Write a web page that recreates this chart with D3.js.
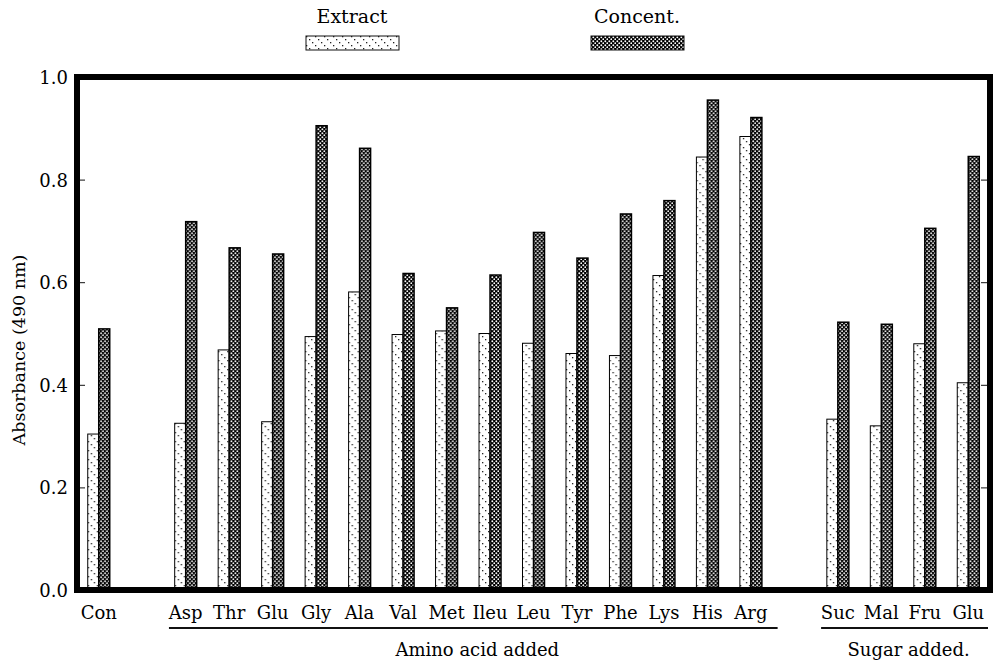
<!DOCTYPE html>
<html>
<head>
<meta charset="utf-8">
<script src="https://cdn.jsdelivr.net/npm/d3@7"></script>
<style>
    body { margin: 0; background: #ffffff; }
    text { font-family: "DejaVu Serif", serif; fill: #000000; }
</style>
</head>
<body>
<div id="chart"></div>
<script>
(function () {
    'use strict';

    // values, one entry per category in order
    var CONTROL = ["Con"];
    var AMINO_ACIDS = ["Asp", "Thr", "Glu", "Gly", "Ala", "Val", "Met", "Ileu", "Leu", "Tyr", "Phe", "Lys", "His", "Arg"];
    var SUGARS = ["Suc", "Mal", "Fru", "Glu"];
    var EXTRACT = [0.304,
        0.325, 0.468, 0.328, 0.494, 0.581, 0.498, 0.505, 0.500, 0.481, 0.461, 0.457, 0.613, 0.844, 0.884,
        0.333, 0.320, 0.480, 0.404];
    var CONCENT = [0.509,
        0.718, 0.667, 0.655, 0.905, 0.861, 0.617, 0.550, 0.614, 0.697, 0.647, 0.733, 0.759, 0.955, 0.921,
        0.522, 0.518, 0.705, 0.845];
    var SERIES = ["Extract", "Concent."];
    var Y_TICKS = [0, 0.2, 0.4, 0.6, 0.8, 1.0];
    var GROUP_TITLES = ["Amino acid added", "Sugar added."];
    var Y_TITLE = "Absorbance (490 nm)";

    var WIDTH = 993;
    var HEIGHT = 661;
    var LEFT = 77, RIGHT = 990, TOP = 77, BOTTOM = 590;

    // slot keys, with an empty slot between the groups
    var ctrlKeys = CONTROL.map(function (d) { return "ctrl:" + d; });
    var aaKeys = AMINO_ACIDS.map(function (d) { return "aa:" + d; });
    var sugarKeys = SUGARS.map(function (d) { return "sugar:" + d; });
    var keys = ctrlKeys.concat(aaKeys, sugarKeys);
    var slots = ctrlKeys.concat(["gap1"], aaKeys, ["gap2"], sugarKeys);

    var rows = keys.map(function (k, i) {
        return {key: k, values: [EXTRACT[i], CONCENT[i]]};
    });

    var x = d3.scaleBand().domain(slots).range([LEFT, RIGHT])
        .paddingInner(0.494).paddingOuter(0.247);
    var xs = d3.scaleBand().domain(SERIES).range([0, x.bandwidth()]);
    var y = d3.scaleLinear().domain([0, 1]).range([BOTTOM, TOP]);

    var svg = d3.select("#chart").append("svg")
        .attr("width", WIDTH)
        .attr("height", HEIGHT);

    addPatterns(svg);
    createBars(svg);
    addAxes(svg);
    addGroupLabels(svg);
    addLegend(svg);

    function addPatterns(svg) {
        var defs = svg.append("defs");

        var dots = defs.append("pattern")
            .attr("id", "pat-extract")
            .attr("patternUnits", "userSpaceOnUse")
            .attr("width", 9).attr("height", 9);
        dots.append("rect").attr("width", 9).attr("height", 9).attr("fill", "#ffffff");
        [0, 3, 6].forEach(function (p) {
            dots.append("rect")
                .attr("x", p).attr("y", p)
                .attr("width", 1.3).attr("height", 1.3)
                .attr("fill", "#222222");
        });

        var check = defs.append("pattern")
            .attr("id", "pat-concent")
            .attr("patternUnits", "userSpaceOnUse")
            .attr("width", 4).attr("height", 4);
        check.append("rect").attr("width", 4).attr("height", 4).attr("fill", "#000000");
        [[0.5, 0.5], [2.5, 2.5]].forEach(function (p) {
            check.append("circle")
                .attr("cx", p[0] + 0.8).attr("cy", p[1] + 0.8)
                .attr("r", 0.95)
                .attr("fill", "#ffffff");
        });
    }

    function createBars(svg) {
        var groups = svg.append("g").selectAll("g")
            .data(rows)
            .enter()
            .append("g")
            .attr("transform", function (d) { return "translate(" + x(d.key) + ",0)"; });

        groups.selectAll("rect")
            .data(function (d) {
                return d.values.map(function (v, i) { return {series: SERIES[i], value: v}; });
            })
            .enter()
            .append("rect")
            .attr("x", function (d) { return xs(d.series); })
            .attr("y", function (d) { return y(d.value); })
            .attr("width", xs.bandwidth())
            .attr("height", function (d) { return y(0) - y(d.value); })
            .attr("fill", function (d) { return d.series === SERIES[0] ? "url(#pat-extract)" : "url(#pat-concent)"; })
            .attr("stroke", "#000000")
            .attr("stroke-width", function (d) { return d.series === SERIES[0] ? 1 : 1.5; });
    }

    function addAxes(svg) {
        var left = svg.append("g")
            .attr("transform", "translate(" + LEFT + ",0)")
            .call(d3.axisLeft(y).tickValues(Y_TICKS).tickSize(-8).tickPadding(9)
                .tickFormat(d3.format(".1f")));
        left.select(".domain").remove();
        left.selectAll("text").style("font-size", "18px").attr("dy", "0.36em");
        left.selectAll("line").attr("stroke", "#111111");

        var right = svg.append("g")
            .attr("transform", "translate(" + RIGHT + ",0)")
            .call(d3.axisRight(y).tickValues(Y_TICKS).tickSize(-9).tickFormat(""));
        right.select(".domain").remove();
        right.selectAll("line").attr("stroke", "#111111");

        // heavy frame round the plot
        svg.append("rect")
            .attr("x", LEFT).attr("y", TOP)
            .attr("width", RIGHT - LEFT).attr("height", BOTTOM - TOP)
            .attr("fill", "none")
            .attr("stroke", "#000000")
            .attr("stroke-width", 6);

        var bottom = svg.append("g")
            .attr("transform", "translate(0," + BOTTOM + ")")
            .call(d3.axisBottom(x).tickValues(keys).tickSize(0).tickPadding(16)
                .tickFormat(function (k) { return k.split(":")[1]; }));
        bottom.select(".domain").remove();
        bottom.selectAll("text").style("font-size", "18px");

        svg.append("text")
            .attr("transform", "translate(25,350) rotate(-90)")
            .attr("text-anchor", "middle")
            .style("font-size", "17.5px")
            .text(Y_TITLE);
    }

    function addGroupLabels(svg) {
        var spans = [
            {keys: aaKeys, title: GROUP_TITLES[0]},
            {keys: sugarKeys, title: GROUP_TITLES[1]}
        ];
        spans.forEach(function (s) {
            var x0 = x(s.keys[0]) - x.step() * x.paddingOuter() + 5;
            var x1 = Math.min(x(s.keys[s.keys.length - 1]) + x.bandwidth() + x.step() * x.paddingOuter() + 5, RIGHT - 2);
            svg.append("line")
                .attr("x1", x0).attr("x2", x1)
                .attr("y1", 628).attr("y2", 628)
                .attr("stroke", "#111111")
                .attr("stroke-width", 2);
            svg.append("text")
                .attr("x", (x0 + x1) / 2 + 4)
                .attr("y", 656)
                .attr("text-anchor", "middle")
                .style("font-size", "18px")
                .text(s.title);
        });
    }

    function addLegend(svg) {
        var items = [
            {label: SERIES[0], cx: 352, fill: "url(#pat-extract)"},
            {label: SERIES[1], cx: 637, fill: "url(#pat-concent)"}
        ];
        items.forEach(function (d) {
            svg.append("text")
                .attr("x", d.cx).attr("y", 23)
                .attr("text-anchor", "middle")
                .style("font-size", "19px")
                .text(d.label);
            svg.append("rect")
                .attr("x", d.cx - 46).attr("y", 36)
                .attr("width", 93).attr("height", 14)
                .attr("fill", d.fill)
                .attr("stroke", "#111111")
                .attr("stroke-width", 1);
        });
    }
})();
</script>
</body>
</html>
